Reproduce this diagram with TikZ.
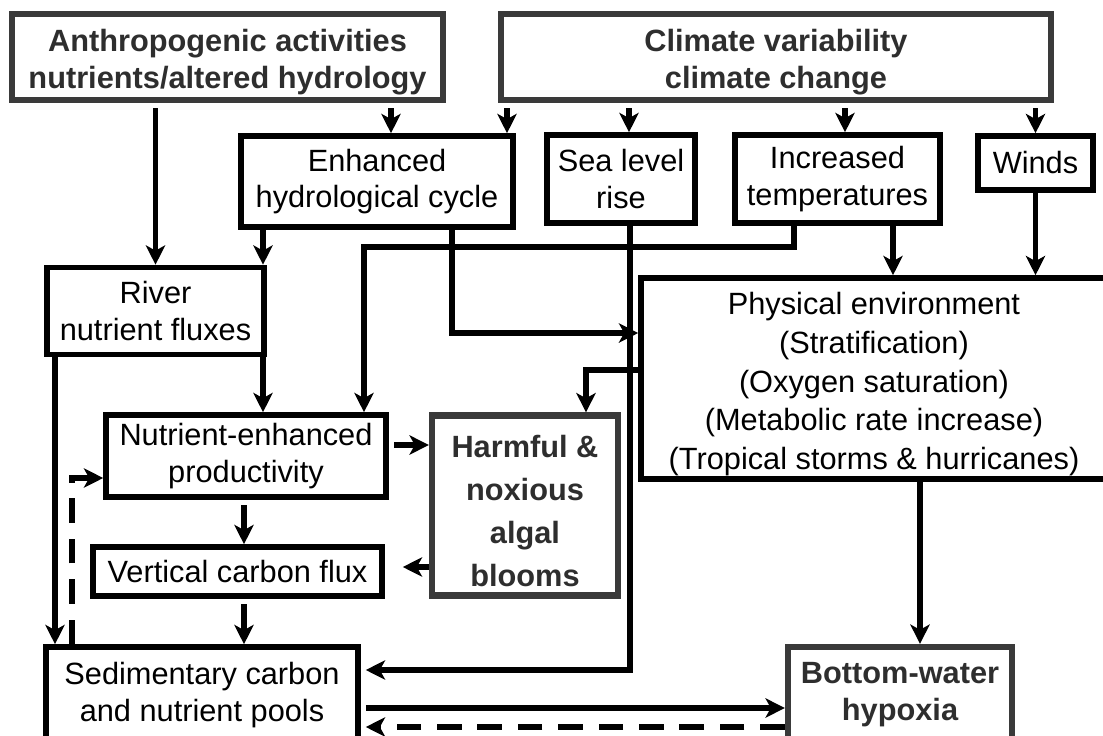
\documentclass[tikz,border=0pt]{standalone}
\usepackage{fontspec}
\setmainfont{Liberation Sans}
\usetikzlibrary{arrows.meta,calc}
\definecolor{boxgrey}{HTML}{3A3A3A}
\definecolor{textgrey}{HTML}{2E2E2E}
\newcommand{\lowtext}{\rule{0pt}{19pt}}

\begin{document}
\begin{tikzpicture}[x=0.02cm,y=-0.02cm,
    box/.style={draw, line width=3.2pt, align=center, inner sep=0pt,
      font=\fontsize{17.5}{21}\selectfont},
    boldbox/.style={box, draw=boxgrey, line width=3.6pt, text=textgrey,
      font=\fontsize{17.5}{21}\selectfont\bfseries},
    arr/.style={line width=3pt, -{Stealth[length=11pt,width=11pt,inset=3pt]}},
    dasharr/.style={arr, dash pattern=on 14pt off 9pt}]
  \useasboundingbox (0,0) rectangle (1103,735);

  %cause
  \node[boldbox, minimum width=8.62cm, minimum height=1.72cm] (anthro) at (227.5,57)
    {\lowtext Anthropogenic activities\\nutrients/altered hydrology};
  \node[boldbox, minimum width=11cm, minimum height=1.72cm] (clim) at (776,57)
    {\lowtext Climate variability\\climate change};

  %effetti del clima
  \node[box, minimum width=5.44cm, minimum height=1.82cm] (enh) at (377,181.5)
    {Enhanced\\hydrological cycle};
  \node[box, minimum width=2.96cm, minimum height=1.76cm] (sea) at (621,179)
    {Sea level\\rise};
  \node[box, minimum width=4.1cm, minimum height=1.76cm] (temp) at (837.5,179)
    {Increased\\temperatures};
  \node[box, minimum width=2.3cm, minimum height=1.08cm] (wind) at (1035.5,163)
    {Winds};

  %sistema
  \node[box, minimum width=4.34cm, minimum height=1.74cm] (river) at (155.5,311)
    {River\\nutrient fluxes};
  \node[box, minimum width=9.32cm, minimum height=4.02cm,
    font=\fontsize{17.5}{22}\selectfont] (phys) at (874,378.5)
    {\lowtext Physical environment\\(Stratification)\\(Oxygen saturation)\\(Metabolic rate increase)\\(Tropical storms \& hurricanes)};
  \node[box, minimum width=5.6cm, minimum height=1.64cm] (nutr) at (246,456)
    {Nutrient-enhanced\\productivity};
  \node[boldbox, minimum width=3.72cm, minimum height=3.6cm,
    font=\fontsize{17.5}{24.5}\selectfont\bfseries] (harm) at (525,505.5)
    {\lowtext Harmful \&\\noxious\\algal\\blooms};
  \node[box, minimum width=5.78cm, minimum height=0.98cm] (vert) at (237.5,571.5)
    {Vertical carbon flux};
  \node[box, minimum width=6.24cm, minimum height=1.92cm] (sed) at (202,695)
    {Sedimentary carbon\\and nutrient pools};
  \node[boldbox, minimum width=4.48cm, minimum height=1.92cm] (bot) at (900,695)
    {Bottom-water\\hypoxia};

  %frecce dall'alto
  \draw[arr, shorten <=3pt] (river.north |- anthro.south) -- (river.north);
  \draw[arr, shorten <=3pt] (391,0 |- anthro.south) -- (391,0 |- enh.north);
  \draw[arr, shorten <=3pt] (507,0 |- clim.south) -- (507,0 |- enh.north);
  \draw[arr, shorten <=3pt] (629,0 |- clim.south) -- (629,0 |- sea.north);
  \draw[arr, shorten <=3pt] (845,0 |- clim.south) -- (845,0 |- temp.north);
  \draw[arr, shorten <=3pt] (wind.north |- clim.south) -- (wind.north);

  %frecce di mezzo
  \draw[arr] (263,0 |- enh.south) -- (263,0 |- river.north);
  \draw[arr] (452,0 |- enh.south) |- (phys.west |- 0,333);
  \draw[arr] (794,0 |- temp.south) |- (364,247) -- (364,0 |- nutr.north);
  \draw[arr] (893,0 |- temp.south) -- (893,0 |- phys.north);
  \draw[arr] (wind.south) -- (wind.south |- phys.north);
  \draw[arr, shorten >=0.1cm] (630,0 |- sea.south) |- (sed.east |- 0,670);
  \draw[arr] (263,0 |- river.south) -- (263,0 |- nutr.north);
  \draw[arr] (55,0 |- river.south) -- (55,0 |- sed.north);
  \draw[arr, shorten <=3pt] (nutr.east |- 0,445) -- (harm.west |- 0,445);
  \draw[arr] (phys.west |- 0,370) -| (586,0 |- harm.north);
  \draw[arr, shorten >=0.36cm] (harm.west |- 0,567) -- (vert.east |- 0,567);
  \draw[arr, shorten <=3pt] (244,0 |- nutr.south) -- (244,0 |- vert.north);
  \draw[arr, shorten <=3pt] (244,0 |- vert.south) -- (244,0 |- sed.north);
  \draw[arr] (920,0 |- phys.south) -- (920,0 |- bot.north);

  %ritorni
  \draw[dasharr] (72,0 |- sed.north) |- (nutr.west |- 0,478);
  \draw[arr, shorten <=0.1cm] (sed.east |- 0,708) -- (bot.west |- 0,708);
  \draw[dasharr, shorten >=0.1cm] (bot.west |- 0,727) -- (sed.east |- 0,727);
\end{tikzpicture}
\end{document}
